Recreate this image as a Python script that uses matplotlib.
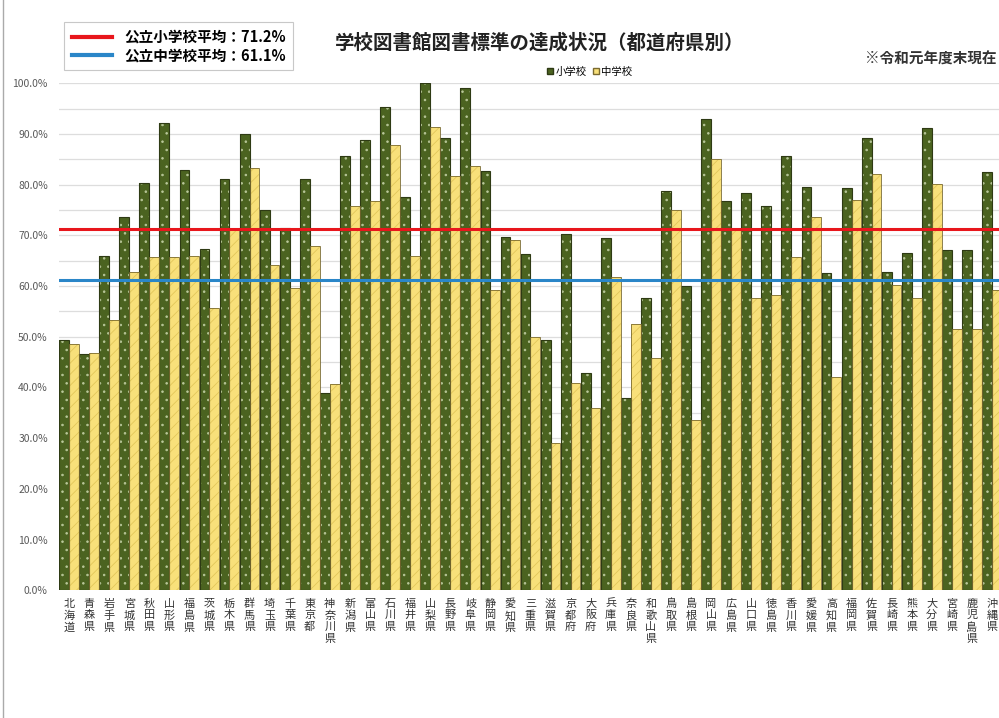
import matplotlib
matplotlib.use('Agg')
import matplotlib.pyplot as plt
from matplotlib.lines import Line2D
from matplotlib.patches import Patch
import numpy as np

plt.rcParams['font.family'] = ['Noto Sans CJK JP', 'DejaVu Sans']
plt.rcParams['hatch.linewidth'] = 0.6

prefectures = ['北海道', '青森県', '岩手県', '宮城県', '秋田県', '山形県', '福島県', '茨城県',
               '栃木県', '群馬県', '埼玉県', '千葉県', '東京都', '神奈川県', '新潟県', '富山県',
               '石川県', '福井県', '山梨県', '長野県', '岐阜県', '静岡県', '愛知県', '三重県',
               '滋賀県', '京都府', '大阪府', '兵庫県', '奈良県', '和歌山県', '鳥取県', '島根県',
               '岡山県', '広島県', '山口県', '徳島県', '香川県', '愛媛県', '高知県', '福岡県',
               '佐賀県', '長崎県', '熊本県', '大分県', '宮崎県', '鹿児島県', '沖縄県']

elementary = [49.3, 46.5, 65.9, 73.7, 80.3, 92.1, 82.9, 67.3, 81.2, 90.0, 75.1, 71.5,
              81.2, 38.9, 85.6, 88.8, 95.4, 77.6, 100.0, 89.2, 99.0, 82.7, 69.6, 66.4,
              49.4, 70.3, 42.8, 69.4, 37.9, 57.7, 78.7, 60.1, 92.9, 76.8, 78.4, 75.7,
              85.6, 79.6, 62.6, 79.3, 89.2, 62.8, 66.6, 91.2, 67.1, 67.1, 82.5]

junior = [48.6, 46.7, 53.3, 62.8, 65.8, 65.8, 65.9, 55.6, 71.0, 83.2, 64.2, 59.6,
          67.9, 40.6, 75.7, 76.8, 87.8, 66.0, 91.4, 81.7, 83.6, 59.3, 69.0, 49.9,
          29.0, 40.8, 36.0, 61.7, 52.5, 45.9, 75.1, 33.5, 85.1, 71.0, 57.6, 58.3,
          65.8, 73.7, 42.0, 77.0, 82.2, 60.2, 57.7, 80.2, 51.6, 51.5, 59.3]

avg_elementary = 71.2
avg_junior = 61.1

dark = '#4b6320'
yellow = '#f8e07a'

fig = plt.figure(figsize=(9.99, 7.18), dpi=100)
ax = fig.add_axes([0.059, 0.178, 0.944, 0.706])

x = np.arange(len(prefectures))
w = 0.49
# filled bars with hatch, then outline on top
ax.bar(x - w / 2, elementary, w, color=dark, hatch='..', edgecolor='#b9c79a', lw=0, zorder=2)
ax.bar(x + w / 2, junior, w, color=yellow, hatch='///', edgecolor='#e2c65a', lw=0, zorder=2)
ax.bar(x - w / 2, elementary, w, facecolor='none', edgecolor='#2e3a14', lw=0.8, zorder=3)
ax.bar(x + w / 2, junior, w, facecolor='none', edgecolor='#7a6a30', lw=0.6, zorder=3)

ax.axhline(avg_elementary, color='#e8161c', lw=2.2, zorder=4)
ax.axhline(avg_junior, color='#2a86c8', lw=2.2, zorder=4)

ax.set_ylim(0, 100)
ax.set_xlim(-0.5, len(prefectures) - 0.5)
ax.set_yticks(np.arange(0, 101, 10))
ax.set_yticklabels([f'{v:.1f}%' for v in np.arange(0, 101, 10)], fontsize=7.5, color='#595959')
ax.set_yticks(np.arange(5, 100, 10), minor=True)
ax.tick_params(axis='y', which='both', length=0, pad=8)
ax.grid(axis='y', which='both', color='#dddddd', lw=0.9, zorder=0)
ax.set_axisbelow(True)

ax.set_xticks(x)
ax.set_xticklabels(['\n'.join(p) for p in prefectures], fontsize=8, linespacing=1.2,
                   va='top', color='#333333')
ax.tick_params(axis='x', length=0, pad=6)
for s in ax.spines.values():
    s.set_visible(False)

# bar legend
ax.legend(handles=[Patch(facecolor=dark, edgecolor='#2e3a14'),
                   Patch(facecolor=yellow, edgecolor='#7a6a30')],
          labels=['小学校', '中学校'], ncol=2, fontsize=7.5, frameon=False,
          handlelength=0.6, handleheight=0.6, handletextpad=0.2, columnspacing=0.6,
          loc='center', bbox_to_anchor=(0.59, 0.9), bbox_transform=fig.transFigure)

# average lines legend
leg = fig.legend(handles=[Line2D([], [], color='#e8161c', lw=3),
                          Line2D([], [], color='#2a86c8', lw=3)],
                 labels=[f'公立小学校平均：{avg_elementary}%', f'公立中学校平均：{avg_junior}%'],
                 loc='upper left', bbox_to_anchor=(0.057, 0.98), fancybox=False,
                 edgecolor='#c8c8c8', framealpha=1, handlelength=2.8, labelspacing=0.15,
                 borderpad=0.5, prop={'weight': 'bold', 'size': 10.5})
leg.get_frame().set_linewidth(0.8)

fig.text(0.54, 0.941, '学校図書館図書標準の達成状況（都道府県別）', ha='center', va='center',
         fontsize=14, fontweight='bold', color='#222222')
fig.text(0.998, 0.919, '※令和元年度末現在', ha='right', va='center', fontsize=10.5,
         fontweight='bold', color='#333333')

fig.add_artist(Line2D([0.003, 0.003], [0, 1], transform=fig.transFigure, color='#aaaaaa', lw=1))

plt.savefig('out.png', dpi=100)
